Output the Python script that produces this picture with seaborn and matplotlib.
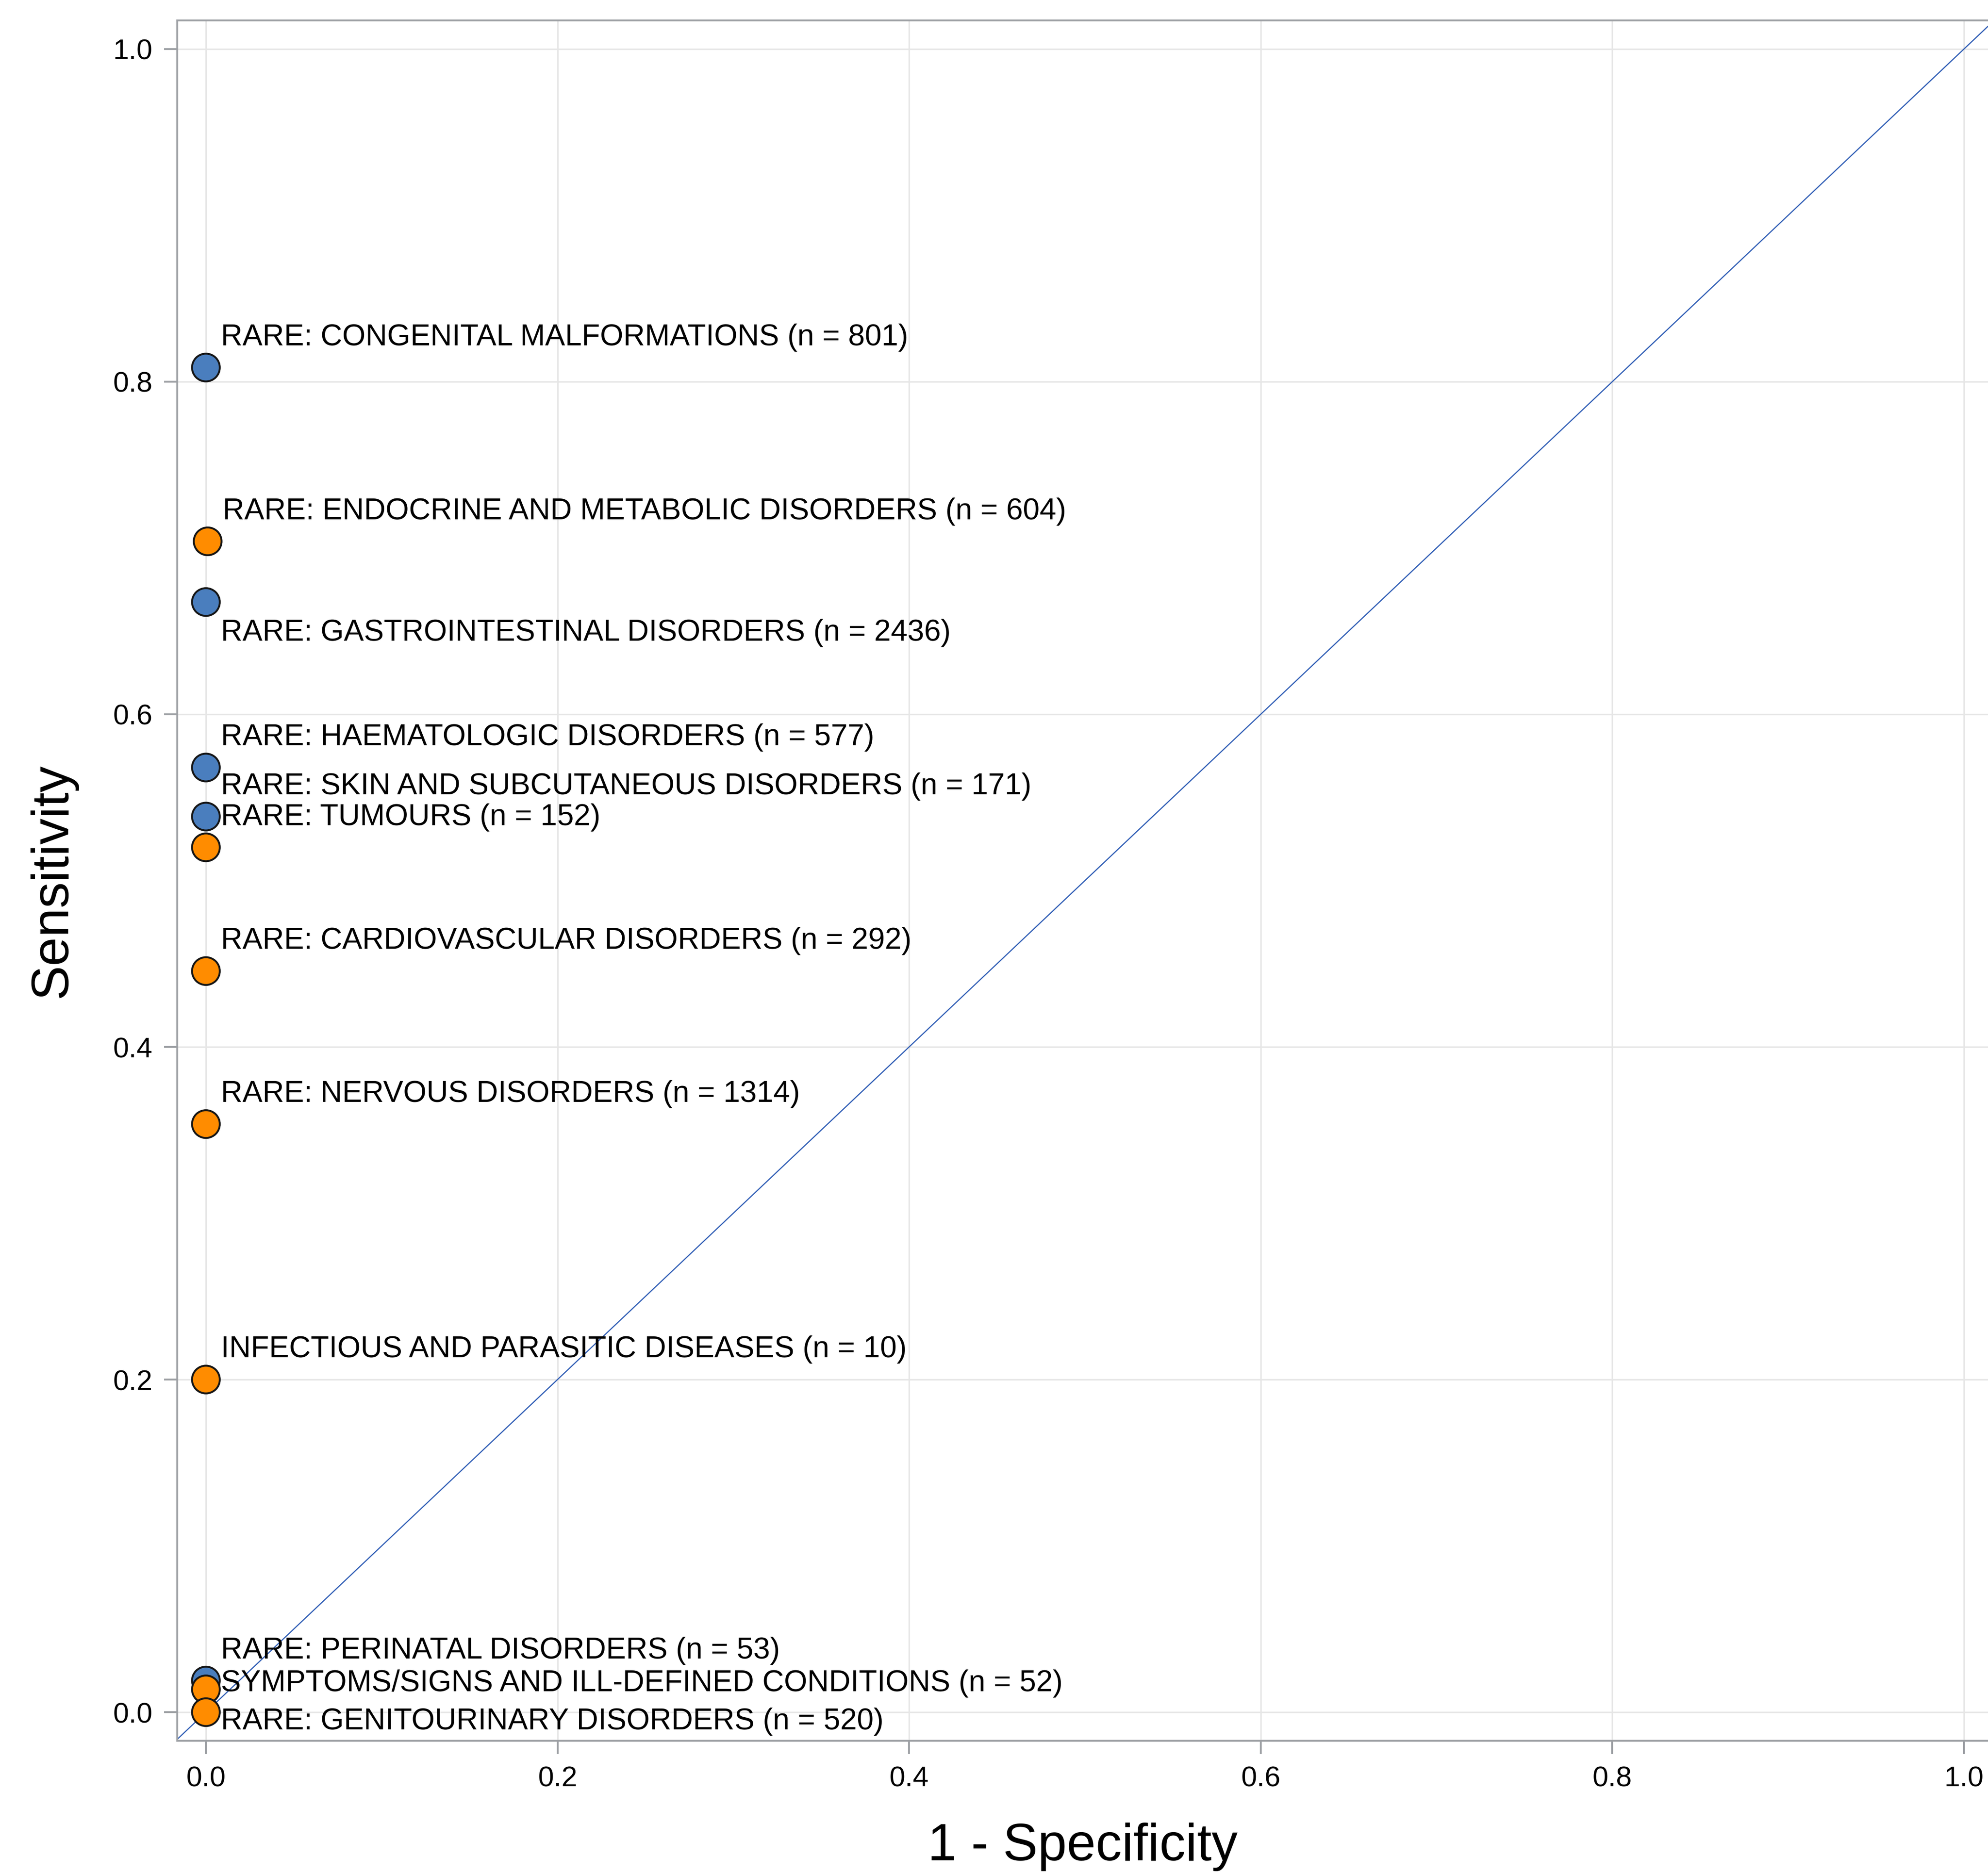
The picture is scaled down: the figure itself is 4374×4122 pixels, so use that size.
import matplotlib
matplotlib.use("Agg")
import matplotlib.pyplot as plt
import seaborn as sns
import pandas as pd

# ---------------- data ----------------
labels = [
    "RARE: CONGENITAL MALFORMATIONS (n = 801)",
    "RARE: ENDOCRINE AND METABOLIC DISORDERS (n = 604)",
    "RARE: GASTROINTESTINAL DISORDERS (n = 2436)",
    "RARE: HAEMATOLOGIC DISORDERS (n = 577)",
    "RARE: SKIN AND SUBCUTANEOUS DISORDERS (n = 171)",
    "RARE: TUMOURS (n = 152)",
    "RARE: CARDIOVASCULAR DISORDERS (n = 292)",
    "RARE: NERVOUS DISORDERS (n = 1314)",
    "INFECTIOUS AND PARASITIC DISEASES (n = 10)",
    "RARE: PERINATAL DISORDERS (n = 53)",
    "SYMPTOMS/SIGNS AND ILL-DEFINED CONDITIONS (n = 52)",
    "RARE: GENITOURINARY DISORDERS (n = 520)",
]
one_minus_spec = [0.0, 0.001, 0.0, 0.0, 0.0, 0.0, 0.0, 0.0, 0.0, 0.0, 0.0, 0.0]
sensitivity = [0.8085, 0.704, 0.6675, 0.568, 0.5385, 0.520, 0.4456, 0.3536,
               0.200, 0.019, 0.0137, 0.0]
group = ["blue", "orange", "blue", "blue", "blue", "orange", "orange", "orange",
         "orange", "blue", "orange", "orange"]
placement = ["above", "above", "below", "above", "above", "above", "above",
             "above", "above", "above", "right_up", "right_down"]

x_ticks = [0.0, 0.2, 0.4, 0.6, 0.8, 1.0]
y_ticks = [0.0, 0.2, 0.4, 0.6, 0.8, 1.0]

# ---------------- style ----------------
palette = {"blue": "#4A7EBE", "orange": "#FF8C00"}
label_dy = {"above": 11.7, "below": -20.4, "right_up": -1.0, "right_down": -9.2}
frame_col = "#9EA1A5"
grid_col = "#E6E6E6"

sns.set_theme(style="white")
plt.rcParams["font.family"] = ["Liberation Sans", "DejaVu Sans"]
tick_family = ["Liberation Sans Narrow", "Liberation Sans", "DejaVu Sans"]

df = pd.DataFrame({"x": one_minus_spec, "y": sensitivity, "g": group, "label": labels})

fig = plt.figure(figsize=(4374 / 300, 4122 / 300), dpi=300)
ax = fig.add_axes([390 / 4374, 1 - 3831 / 4122, 1 - 390 / 4374, (3831 - 45) / 4122])

ax.set_xlim(-0.0163, 1.0137)
ax.set_ylim(-0.0172, 1.0172)
ax.set_axisbelow(True)
ax.set_xticks(x_ticks)
ax.set_yticks(y_ticks)
ax.set_xticklabels([f"{v:.1f}" for v in x_ticks], family=tick_family)
ax.set_yticklabels([f"{v:.1f}" for v in y_ticks], family=tick_family)
ax.grid(True, color=grid_col, linewidth=0.8)

# reference diagonal
ax.axline((0, 0), slope=1, color="#2F5DB5", linewidth=0.6, zorder=2)

sns.scatterplot(data=df, x="x", y="y", hue="g", palette=palette, legend=False,
                s=215, edgecolor="#151515", linewidth=1.0, ax=ax, zorder=3)

for xv, yv, lab, pl in zip(one_minus_spec, sensitivity, labels, placement):
    ax.annotate(lab, (xv, yv), xytext=(8.0, label_dy[pl]), textcoords="offset points",
                ha="left", va="baseline", fontsize=15.8, color="black", zorder=4,
                annotation_clip=False)

for side in ["top", "left", "bottom"]:
    ax.spines[side].set_color(frame_col)
    ax.spines[side].set_linewidth(1.0)
ax.spines["right"].set_visible(False)

ax.tick_params(axis="both", which="major", direction="out", length=7, width=1.0,
               color=frame_col, labelsize=15, labelcolor="black", pad=6,
               bottom=True, left=True)

ax.set_xlabel("1 - Specificity", fontsize=27.5, labelpad=16, color="black")
ax.set_ylabel("Sensitivity", fontsize=27.5, labelpad=19, color="black")

fig.savefig("out.png", dpi=300, facecolor="white")
